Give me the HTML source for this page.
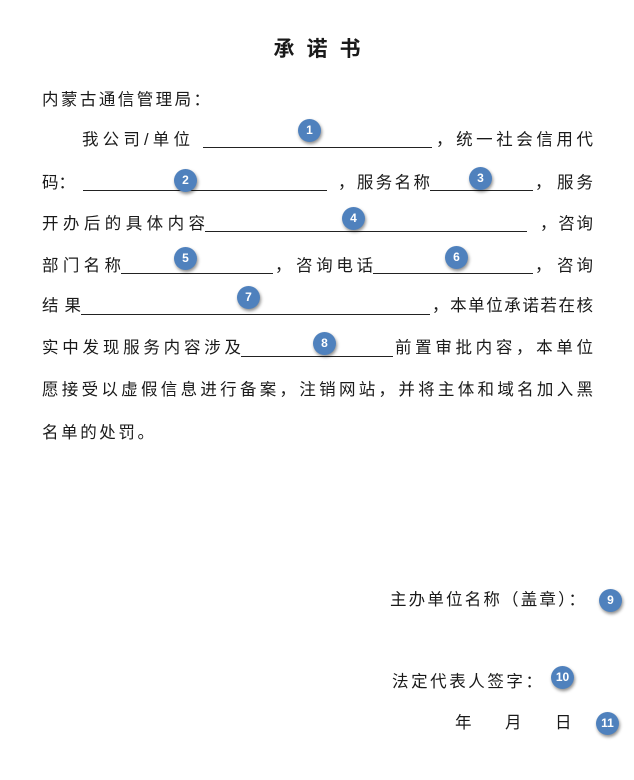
<!DOCTYPE html>
<html><head><meta charset="utf-8">
<style>
html,body{margin:0;padding:0;background:#fff;}
body{width:634px;height:780px;position:relative;overflow:hidden;font-family:"Liberation Sans","Noto Sans CJK SC","WenQuanYi Zen Hei",sans-serif;color:#1a1a1a;}
.t{position:absolute;font-size:16.5px;line-height:20px;white-space:nowrap;}
.j{text-align:justify;text-align-last:justify;white-space:normal;overflow:hidden;height:20px;}
.u{position:absolute;height:0;border-bottom:1.3px solid #222;}
.c{position:absolute;width:23px;height:23px;border-radius:50%;background:#4f81bd;color:#fff;font-weight:bold;font-size:12px;line-height:23px;text-align:center;box-shadow:1px 2px 3px rgba(0,0,0,0.45);font-family:"Liberation Sans",sans-serif;}
</style></head><body>
<div class="t" style="left:0;width:634px;top:38px;text-align:center;font-size:21px;line-height:24px;font-weight:bold;letter-spacing:12px;padding-left:12px;box-sizing:border-box;">承诺书</div>

<div class="t j" style="left:42px;top:90px;width:168px;">内蒙古通信管理局：</div>

<div class="t j" style="left:82px;top:130px;width:108px;">我公司/单位</div>
<div class="u" style="left:203px;top:147px;width:229px;"></div>
<div class="t j" style="left:436px;top:130px;width:157px;">，统一社会信用代</div>

<div class="t j" style="left:42px;top:173px;width:30px;">码：</div>
<div class="u" style="left:83px;top:190px;width:244px;"></div>
<div class="t j" style="left:338px;top:173px;width:92px;">，服务名称</div>
<div class="u" style="left:430px;top:190px;width:103px;"></div>
<div class="t" style="left:535px;top:173px;">，</div>
<div class="t j" style="left:557px;top:173px;width:36px;">服务</div>

<div class="t j" style="left:42px;top:214px;width:163px;">开办后的具体内容</div>
<div class="u" style="left:205px;top:231px;width:322px;"></div>
<div class="t j" style="left:540px;top:214px;width:53px;">，咨询</div>

<div class="t j" style="left:42px;top:256px;width:79px;">部门名称</div>
<div class="u" style="left:121px;top:273px;width:152px;"></div>
<div class="t" style="left:275px;top:256px;">，</div>
<div class="t j" style="left:296px;top:256px;width:77px;">咨询电话</div>
<div class="u" style="left:373px;top:273px;width:160px;"></div>
<div class="t" style="left:535px;top:256px;">，</div>
<div class="t j" style="left:557px;top:256px;width:36px;">咨询</div>

<div class="t j" style="left:42px;top:296px;width:39px;">结果</div>
<div class="u" style="left:81px;top:314px;width:349px;"></div>
<div class="t j" style="left:432px;top:296px;width:161px;">，本单位承诺若在核</div>

<div class="t j" style="left:42px;top:338px;width:199px;">实中发现服务内容涉及</div>
<div class="u" style="left:241px;top:356px;width:152px;"></div>
<div class="t j" style="left:395px;top:338px;width:198px;">前置审批内容，本单位</div>

<div class="t j" style="left:42px;top:380px;width:551px;">愿接受以虚假信息进行备案，注销网站，并将主体和域名加入黑</div>
<div class="t j" style="left:42px;top:423px;width:112px;">名单的处罚。</div>

<div class="t j" style="left:390px;top:590px;width:195px;">主办单位名称（盖章）：</div>
<div class="t j" style="left:392px;top:672px;width:150px;">法定代表人签字：</div>
<div class="t" style="left:455px;top:713px;">年</div>
<div class="t" style="left:505px;top:713px;">月</div>
<div class="t" style="left:555px;top:713px;">日</div>

<div class="c" style="left:298px;top:119px;">1</div>
<div class="c" style="left:174px;top:169px;">2</div>
<div class="c" style="left:469px;top:167px;">3</div>
<div class="c" style="left:342px;top:207px;">4</div>
<div class="c" style="left:174px;top:247px;">5</div>
<div class="c" style="left:445px;top:246px;">6</div>
<div class="c" style="left:237px;top:286px;">7</div>
<div class="c" style="left:313px;top:332px;">8</div>
<div class="c" style="left:599px;top:589px;">9</div>
<div class="c" style="left:551px;top:666px;">10</div>
<div class="c" style="left:596px;top:712px;">11</div>
</body></html>
